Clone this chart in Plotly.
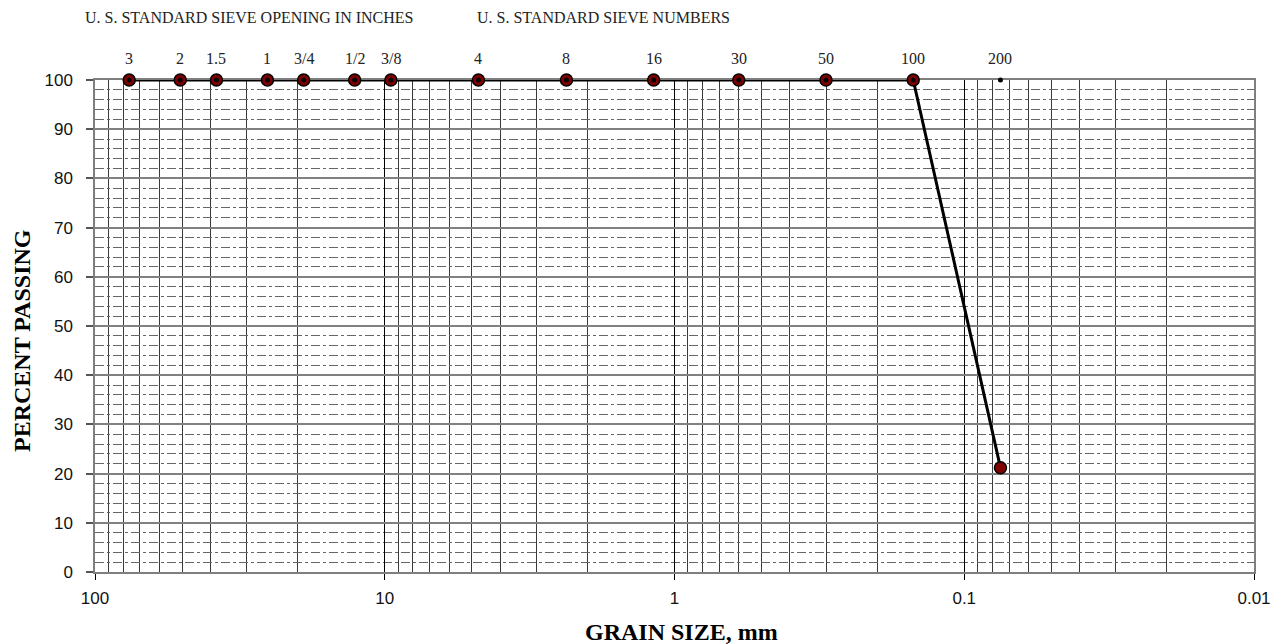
import math
import plotly.graph_objects as go

# ---- data ----
sieve_labels = ["3", "2", "1.5", "1", "3/4", "1/2", "3/8", "4", "8", "16", "30", "50", "100", "200"]
sieve_sizes_mm = [76.2, 50.8, 38.1, 25.4, 19.05, 12.7, 9.525, 4.75, 2.36, 1.18, 0.6, 0.3, 0.15, 0.075]
percent_passing = [100, 100, 100, 100, 100, 100, 100, 100, 100, 100, 100, 100, 100, 21.2]
label_row_value = [100] * len(sieve_sizes_mm)

x_tick_vals = [100, 10, 1, 0.1, 0.01]
x_tick_text = ["100", "10", "1", "0.1", "0.01"]
y_tick_vals = list(range(0, 101, 10))

# page body margin offset (pixels)
OFF = 8
# figure size and plot-area geometry (pixels, in page coordinates)
W, H = 1285 - OFF, 644 - OFF
L, R, T, B = 95, 1254, 80, 572
pw, ph = R - L, B - T

def px(xp):
    return (xp - L) / pw

def py(yp):
    return (B - yp) / ph

minor_x = []
for e in [10, 1, 0.1, 0.01]:
    for k in range(2, 10):
        minor_x.append(round(k * e, 6))

fig = go.Figure()

fig.add_trace(go.Scatter(
    x=sieve_sizes_mm, y=percent_passing, mode="lines+markers",
    line=dict(color="black", width=3),
    marker=dict(size=12, color="#800000", line=dict(color="black", width=1.5)),
    cliponaxis=False, showlegend=False, hoverinfo="x+y",
))
fig.add_trace(go.Scatter(
    x=sieve_sizes_mm, y=label_row_value, mode="markers",
    marker=dict(size=5, color="black"),
    cliponaxis=False, showlegend=False, hoverinfo="skip",
))

serif = "Liberation Serif, Times New Roman, serif"
for lab, xv in zip(sieve_labels, sieve_sizes_mm):
    fig.add_annotation(x=math.log10(xv), y=1, xref="x", yref="paper", text=lab, showarrow=False,
                       yanchor="middle", xanchor="center", yshift=22,
                       font=dict(family=serif, size=16, color="#222"))

fig.add_annotation(x=px(83), y=py(17), xref="paper", yref="paper",
                   text="U. S. STANDARD SIEVE OPENING IN INCHES", showarrow=False,
                   xanchor="left", yanchor="middle",
                   font=dict(family=serif, size=16, color="#222"))
fig.add_annotation(x=px(475), y=py(17), xref="paper", yref="paper",
                   text="U. S. STANDARD SIEVE NUMBERS", showarrow=False,
                   xanchor="left", yanchor="middle",
                   font=dict(family=serif, size=16, color="#222"))
fig.add_annotation(x=px(681), y=py(632), xref="paper", yref="paper",
                   text="<b>GRAIN SIZE, mm</b>", showarrow=False,
                   xanchor="center", yanchor="middle",
                   font=dict(family=serif, size=24, color="black"))
fig.add_annotation(x=px(22), y=py(341), xref="paper", yref="paper",
                   text="<b>PERCENT PASSING</b>", showarrow=False, textangle=-90,
                   xanchor="center", yanchor="middle",
                   font=dict(family=serif, size=24, color="black"))

fig.update_xaxes(
    type="log", range=[2, -2],
    tickvals=x_tick_vals, ticktext=x_tick_text,
    ticks="outside", ticklen=6, tickcolor="black", tickwidth=1,
    showgrid=True, gridcolor="black", gridwidth=1,
    minor=dict(tickvals=minor_x, showgrid=True, gridcolor="#3a3a3a", gridwidth=1, ticks=""),
    showline=True, linecolor="#7f7f7f", linewidth=1.5, mirror=True,
    tickfont=dict(family="Liberation Sans, Arial, sans-serif", size=17, color="#111"),
    ticklabelstandoff=4, zeroline=False, layer="below traces",
)
fig.update_yaxes(
    range=[0, 100], tickvals=y_tick_vals,
    ticks="outside", ticklen=7, tickcolor="#555", tickwidth=1.5,
    showgrid=True, gridcolor="#808080", gridwidth=1.5,
    minor=dict(dtick=2, showgrid=True, gridcolor="#666666", gridwidth=1, griddash="dashdot", ticks=""),
    showline=True, linecolor="#7f7f7f", linewidth=1.5, mirror=True,
    tickfont=dict(family="Liberation Sans, Arial, sans-serif", size=17, color="#111"),
    ticklabelstandoff=10, zeroline=False, layer="below traces",
)

fig.update_layout(
    width=W, height=H,
    margin=dict(l=L - OFF, r=1285 - R, t=T - OFF, b=644 - B),
    paper_bgcolor="white", plot_bgcolor="white",
    showlegend=False,
)

fig.write_html("out.html")
